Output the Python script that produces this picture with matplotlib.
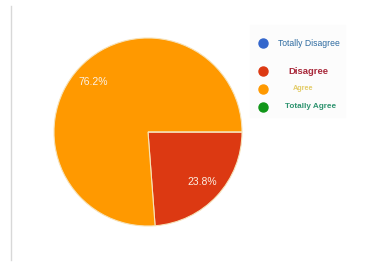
import matplotlib.pyplot as plt
from matplotlib.lines import Line2D

# === DATOS ===
labels = ["Totally Disagree", "Disagree", "Agree", "Totally Agree"]
values = [0, 23.8, 76.2, 0]
colors = ["#3366cc", "#dc3912", "#ff9900", "#109618"]

# estilo del texto de la leyenda
label_colors = ["#2d6aa0", "#a8283a", "#e3cc68", "#2f9470"]
label_sizes = [6.2, 6.8, 5.2, 5.9]
label_weights = ["normal", "bold", "bold", "bold"]
label_x = [278, 288, 293, 285]
row_y = [43, 71, 89, 107]

W, H = 377, 264
fig = plt.figure(figsize=(W / 100, H / 100), dpi=100)
fig.patch.set_facecolor("white")

# === PIE ===
cx, cy, r = 148, 132, 94
ax = fig.add_axes([(cx - r) / W, (H - cy - r) / H, 2 * r / W, 2 * r / H])
wedges, texts, autotexts = ax.pie(
    values, colors=colors, startangle=0, counterclock=False,
    autopct=lambda p: f"{p:.1f}%" if p > 0 else "",
    pctdistance=0.79,
    wedgeprops=dict(edgecolor="#f6e2b8", linewidth=0.8),
    textprops=dict(color="#fbf0e4", fontsize=7.5, family="Liberation Sans"),
)
ax.set_xlim(-1, 1)
ax.set_ylim(-1, 1)
ax.set_aspect("equal")
ax.axis("off")

# === LEYENDA ===
fig.patches.append(plt.Rectangle((250 / W, 1 - 117 / H), 95 / W, 92 / H,
                                 transform=fig.transFigure, color="#fcfcfc", zorder=0))
for i, lab in enumerate(labels):
    y = 1 - row_y[i] / H
    fig.add_artist(Line2D([263 / W], [y], marker="o", markersize=6.5,
                          color=colors[i], transform=fig.transFigure))
    fig.text(label_x[i] / W, y, lab, color=label_colors[i], fontsize=label_sizes[i],
             fontweight=label_weights[i], family="Liberation Sans", va="center", ha="left")

# linea gris a la izquierda
fig.add_artist(Line2D([10.5 / W, 10.5 / W], [1 - 6 / H, 1 - 260 / H],
                      color="#d8d8d8", linewidth=1, transform=fig.transFigure))

fig.savefig("out.png", dpi=100)
